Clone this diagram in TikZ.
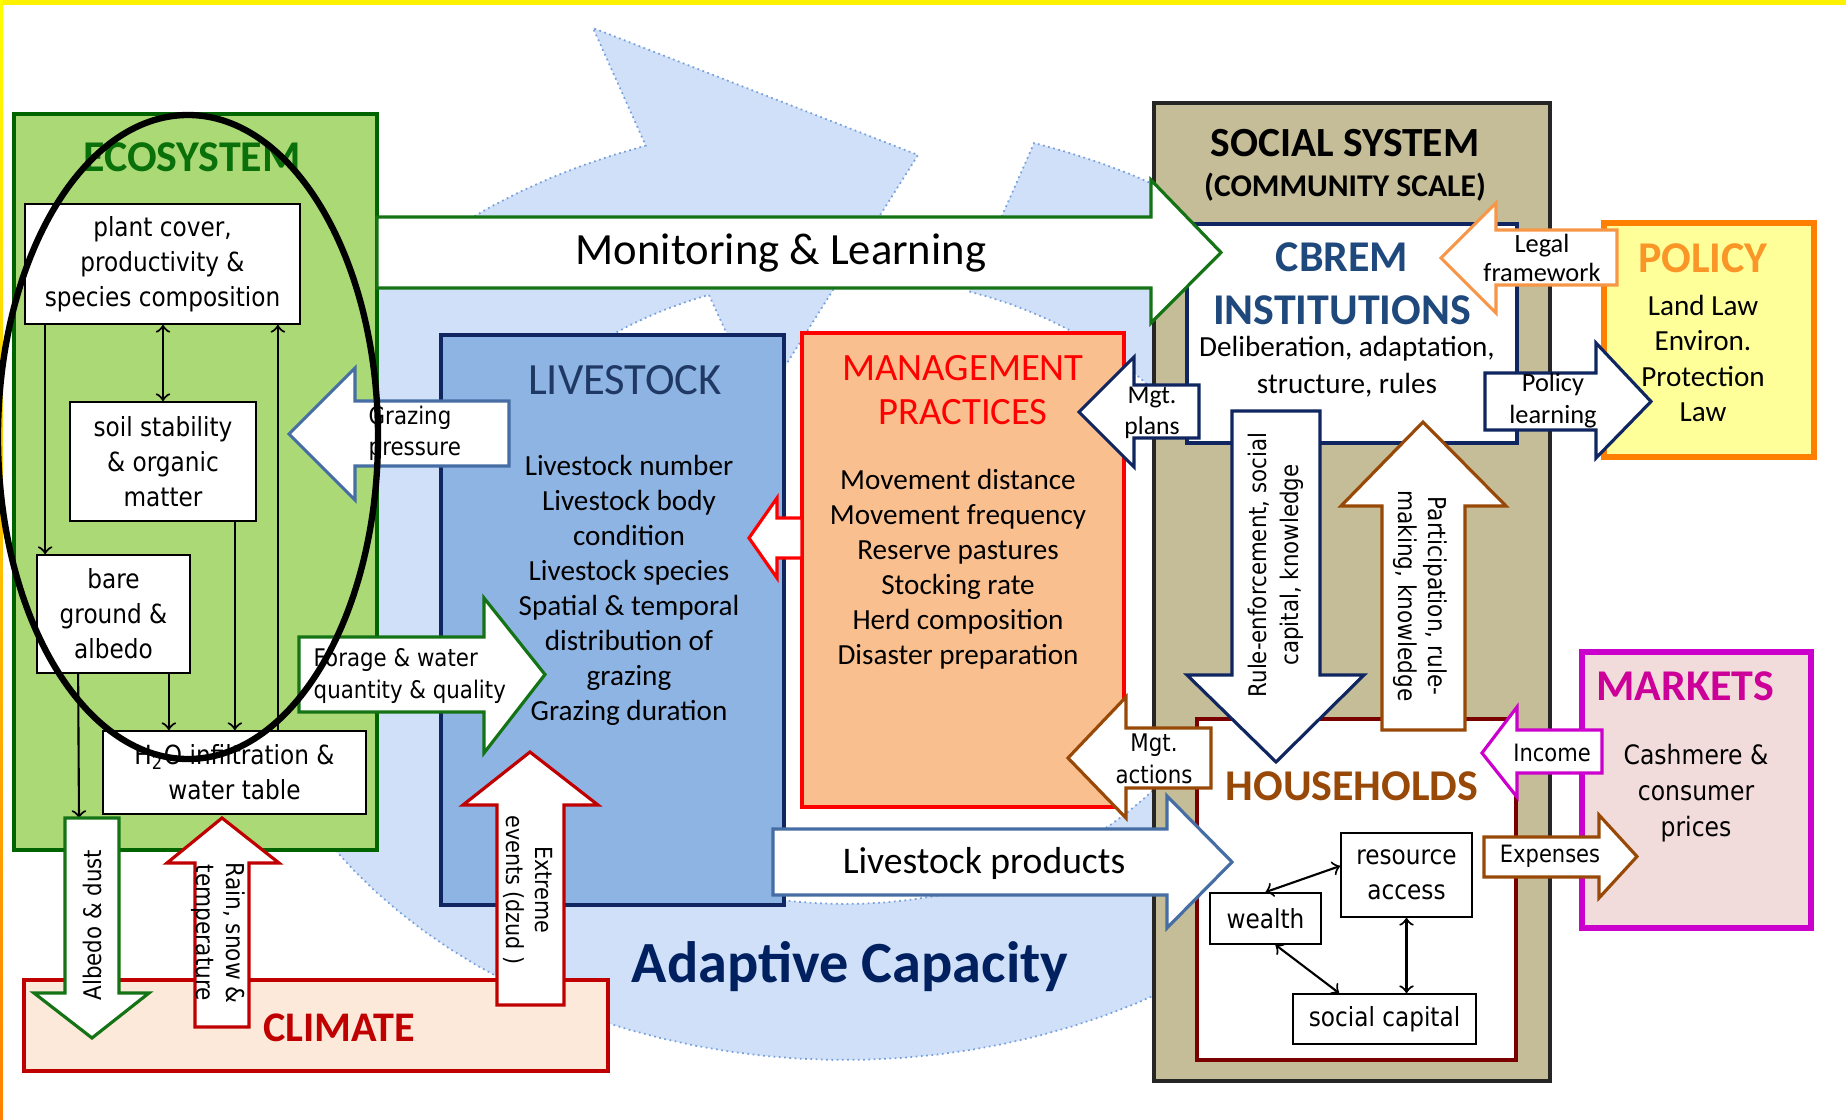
\documentclass[tikz,border=0pt]{standalone}
\usepackage{fontspec}
\setmainfont{Carlito}
\newfontfamily\verd[FakeStretch=0.88]{DejaVu Sans}
\usepackage{tikz}
\usetikzlibrary{calc}

\definecolor{ecofill}{RGB}{170,217,118}
\definecolor{ecoline}{RGB}{0,100,0}
\definecolor{ecotext}{RGB}{10,112,10}
\definecolor{livefill}{RGB}{142,180,227}
\definecolor{navy}{RGB}{16,38,96}
\definecolor{livetext}{RGB}{31,56,100}
\definecolor{mgmtfill}{RGB}{250,191,143}
\definecolor{socialfill}{RGB}{196,189,151}
\definecolor{socialline}{RGB}{38,38,38}
\definecolor{cbremtext}{RGB}{31,73,125}
\definecolor{policyfill}{RGB}{255,255,153}
\definecolor{policyline}{RGB}{255,128,0}
\definecolor{policytext}{RGB}{250,150,40}
\definecolor{legalline}{RGB}{247,150,70}
\definecolor{hhbrown}{RGB}{152,72,7}
\definecolor{houseline}{RGB}{122,0,0}
\definecolor{mktfill}{RGB}{242,220,219}
\definecolor{mktline}{RGB}{204,0,204}
\definecolor{mkttext}{RGB}{204,0,153}
\definecolor{climfill}{RGB}{253,233,217}
\definecolor{climline}{RGB}{192,0,0}
\definecolor{steel}{RGB}{70,110,165}
\definecolor{greenarrow}{RGB}{20,115,20}
\definecolor{cyclefill}{RGB}{207,224,248}
\definecolor{cycleline}{RGB}{120,160,220}
\definecolor{adaptext}{RGB}{0,32,96}

\begin{document}
\begin{tikzpicture}[x=1cm, y=-1cm,
    box/.style = {draw, line width=1.4pt, inner sep=0pt},
    small/.style = {draw, fill=white, line width=0.5pt, inner sep=0pt, align=center, font=\verd\fontsize{7.5}{10}\selectfont},
    title/.style = {inner sep=0pt, font=\bfseries\fontsize{12.5}{15}\selectfont},
    list/.style = {inner sep=0pt, align=center, font=\fontsize{8.3}{9.96}\selectfont},
    arrlbl/.style = {inner sep=0pt, align=center, font=\verd\fontsize{6.9}{9}\selectfont},
    blk/.style = {fill=white, line width=0.9pt, line join=miter},
    link/.style = {line width=0.6pt, ->}]
% frame
\useasboundingbox (0,0) rectangle (18.46,11.2);
\fill[yellow] (0,0) rectangle (18.46,0.05);
\shade[top color=yellow, bottom color=orange] (0,0) rectangle (0.03,11.2);

% adaptive cycle behind everything
\filldraw[fill=cyclefill, draw=cycleline, densely dotted, line width=0.5pt]
    (7.09,2.95) -- (7.60,4.06) -- (9.18,1.55) -- (5.93,0.28)
    -- plot[domain=109:432, samples=100] ({8.45+6.12*cos(\x)}, {5.90-4.70*sin(\x)})
    -- plot[domain=432:110, samples=100] ({8.45+4.00*cos(\x)}, {5.90-3.14*sin(\x)})
    -- cycle;
\node[inner sep=0pt, text=adaptext, font=\bfseries\fontsize{16.6}{20}\selectfont] (adaptive) at (8.50,9.67) {Adaptive Capacity};

% main boxes
\node[box, fill=climfill, draw=climline, minimum width=5.84cm, minimum height=0.91cm] (climate) at (3.16,10.255) {};
\node[box, fill=ecofill, draw=ecoline, minimum width=3.63cm, minimum height=7.36cm] (eco) at (1.955,4.82) {};
\node[box, fill=livefill, draw=navy, minimum width=3.43cm, minimum height=5.70cm] (live) at (6.125,6.20) {};
\node[box, fill=mgmtfill, draw=red, minimum width=3.22cm, minimum height=4.74cm] (mgmt) at (9.63,5.70) {};
\node[box, fill=socialfill, draw=socialline, minimum width=3.96cm, minimum height=9.78cm] (social) at (13.52,5.92) {};
\node[box, fill=white, draw=navy, minimum width=3.30cm, minimum height=2.19cm] (cbrem) at (13.52,3.335) {};
\node[box, fill=white, draw=houseline, minimum width=3.19cm, minimum height=3.41cm] (house) at (13.565,8.895) {};
\node[box, fill=policyfill, draw=policyline, line width=1.8pt, minimum width=2.10cm, minimum height=2.34cm] (policy) at (17.09,3.40) {};
\node[box, fill=mktfill, draw=mktline, line width=1.8pt, minimum width=2.29cm, minimum height=2.76cm] (markets) at (16.965,7.90) {};

% titles and texts
\node[title, text=ecotext] (ecotitle) at (1.92,1.57) {ECOSYSTEM};
\node[title, text=livetext, font=\fontsize{12.7}{15}\selectfont] (livetitle) at (6.25,3.80) {LIVESTOCK};
\node[title, text=red, align=center, font=\fontsize{11}{12.5}\selectfont] (mgmttitle) at (9.63,3.90) {MANAGEMENT\\PRACTICES};
\node[title, font=\bfseries\fontsize{11.8}{14}\selectfont] (socialtitle) at (13.45,1.43) {SOCIAL SYSTEM};
\node[title, font=\bfseries\fontsize{9}{11}\selectfont] (socialsub) at (13.45,1.87) {(COMMUNITY SCALE)};
\node[title, text=cbremtext, align=center] (cbremtitle) at (13.42,2.835) {CBREM\\INSTITUTIONS};
\node[list, font=\fontsize{8.3}{10.5}\selectfont] (cbremdesc) at (13.47,3.665) {Deliberation, adaptation,\\structure, rules};
\node[title, text=policytext] (policytitle) at (17.03,2.58) {POLICY};
\node[list, font=\fontsize{8.3}{10.1}\selectfont] (policydesc) at (17.03,3.585) {Land Law\\Environ.\\Protection\\Law};
\node[title, text=hhbrown] (housetitle) at (13.52,7.86) {HOUSEHOLDS};
\node[title, text=mkttext] (mkttitle) at (16.85,6.86) {MARKETS};
\node[list, font=\verd\fontsize{7.6}{10.2}\selectfont] (mktdesc) at (16.96,7.93) {Cashmere \&\\consumer\\prices};
\node[title, text=climline, font=\bfseries\fontsize{12}{14}\selectfont] (climtitle) at (3.39,10.28) {CLIMATE};

\node[list] (livelist) at (6.29,5.905) {Livestock number\\Livestock body\\condition\\Livestock species\\Spatial \& temporal\\distribution of\\grazing\\Grazing duration};
\node[list] (mgmtlist) at (9.58,5.695) {Movement distance\\Movement frequency\\Reserve pastures\\Stocking rate\\Herd composition\\Disaster preparation};

% ecosystem parts
\node[small, minimum width=2.75cm, minimum height=1.20cm] (plant) at (1.625,2.64) {plant cover,\\productivity \&\\species composition};
\node[small, minimum width=1.86cm, minimum height=1.19cm] (soil) at (1.63,4.615) {soil stability\\\& organic\\matter};
\node[small, minimum width=1.53cm, minimum height=1.18cm] (bare) at (1.135,6.14) {bare\\ground \&\\albedo};
\node[small, minimum width=2.63cm, minimum height=0.83cm] (water) at (2.345,7.725) {H\textsubscript{2}O infiltration \&\\water table};
\coordinate (albtop) at (0.79,8.18);

\draw[link] ($(plant.south west)+(0.21,0)$) -- ($(plant.south west |- bare.north)+(0.21,0)$);
\draw[link, <->] (soil.north |- plant.south) -- (soil.north);
\draw[link] ($(plant.south east |- water.north)+(-0.23,0)$) -- ($(plant.south east)+(-0.23,0)$);
\draw[link] ($(soil.south east)+(-0.22,0)$) -- ($(soil.south east |- water.north)+(-0.22,0)$);
\draw[link] ($(bare.south east)+(-0.22,0)$) -- ($(bare.south east |- water.north)+(-0.22,0)$);
\draw[link] ($(bare.south west)+(0.42,0)$) -- (albtop);

% household parts
\node[small, minimum width=1.31cm, minimum height=0.84cm] (access) at (14.065,8.75) {resource\\access};
\node[small, minimum width=1.11cm, minimum height=0.51cm] (wealth) at (12.655,9.185) {wealth};
\node[small, minimum width=1.83cm, minimum height=0.50cm] (capital) at (13.845,10.19) {social capital};

\draw[link, <->] (wealth.north) -- ($(access.west)+(0,-0.09)$);
\draw[link, <->] ($(wealth.south)+(0.10,0)$) -- ($(capital.north west)+(0.47,0)$);
\draw[link, <->] (access.south) -- (access.south |- capital.north);

% block arrows
\draw[blk, draw=greenarrow] (3.77,2.17) -- (11.51,2.17) -- (11.51,1.80) -- (12.21,2.525) -- (11.51,3.23) -- (11.51,2.88) -- (3.77,2.88) -- cycle;
\node[inner sep=0pt, font=\fontsize{12.7}{15}\selectfont] (monitor) at (7.81,2.53) {Monitoring \& Learning};

\draw[blk, draw=steel] (5.09,4.01) -- (3.55,4.01) -- (3.55,3.68) -- (2.89,4.34) -- (3.55,5.00) -- (3.55,4.66) -- (5.09,4.66) -- cycle;
\node[arrlbl, align=left, anchor=west, font=\verd\fontsize{6.9}{8.8}\selectfont] (grazing) at (3.68,4.335) {Grazing\\pressure};

\draw[blk, draw=greenarrow] (2.99,6.37) -- (4.84,6.37) -- (4.84,5.98) -- (5.45,6.745) -- (4.84,7.53) -- (4.84,7.12) -- (2.99,7.12) -- cycle;
\node[arrlbl, align=left, anchor=west] (forage) at (3.13,6.76) {Forage \& water\\quantity \& quality};

\draw[blk, draw=red] (8.02,5.18) -- (7.77,5.18) -- (7.77,4.98) -- (7.49,5.38) -- (7.77,5.78) -- (7.77,5.58) -- (8.02,5.58) -- cycle;

\draw[blk, draw=legalline] (16.17,2.30) -- (14.96,2.30) -- (14.96,2.03) -- (14.41,2.58) -- (14.96,3.13) -- (14.96,2.85) -- (16.17,2.85) -- cycle;
\node[arrlbl, font=\fontsize{7.5}{8.5}\selectfont] (legal) at (15.42,2.58) {Legal\\framework};

\draw[blk, draw=navy] (14.85,3.73) -- (15.96,3.73) -- (15.96,3.43) -- (16.51,4.015) -- (15.96,4.58) -- (15.96,4.30) -- (14.85,4.30) -- cycle;
\node[arrlbl, font=\fontsize{7.5}{9.1}\selectfont] (learning) at (15.53,4.01) {Policy\\learning};

\draw[blk, draw=navy] (11.99,3.85) -- (11.34,3.85) -- (11.34,3.57) -- (10.79,4.12) -- (11.34,4.67) -- (11.34,4.38) -- (11.99,4.38) -- cycle;
\node[arrlbl, font=\fontsize{7.3}{8.8}\selectfont] (plans) at (11.52,4.125) {Mgt.\\plans};

\draw[blk, draw=hhbrown] (12.11,7.28) -- (11.26,7.28) -- (11.26,6.97) -- (10.68,7.58) -- (11.26,8.18) -- (11.26,7.88) -- (12.11,7.88) -- cycle;
\node[arrlbl, font=\verd\fontsize{6.9}{9.1}\selectfont] (actions) at (11.54,7.59) {Mgt.\\actions};

\draw[blk, draw=navy] (12.32,4.11) -- (13.20,4.11) -- (13.20,6.75) -- (13.64,6.75) -- (12.76,7.62) -- (11.87,6.75) -- (12.32,6.75) -- cycle;
\node[arrlbl, rotate=90] (rules) at (12.76,5.65) {Rule-enforcement, social\\capital, knowledge};

\draw[blk, draw=hhbrown] (13.82,7.30) -- (13.82,5.06) -- (13.41,5.06) -- (14.23,4.22) -- (15.06,5.06) -- (14.65,5.06) -- (14.65,7.30) -- cycle;
\node[arrlbl, rotate=-90, font=\verd\fontsize{7}{8.5}\selectfont] (particip) at (14.20,5.96) {Participation, rule-\\making, knowledge};

\draw[blk, draw=mktline] (16.02,7.30) -- (15.17,7.30) -- (15.17,7.07) -- (14.82,7.53) -- (15.17,7.97) -- (15.17,7.73) -- (16.02,7.73) -- cycle;
\node[arrlbl, font=\verd\fontsize{6.8}{8}\selectfont] (income) at (15.52,7.53) {Income};

\draw[blk, draw=hhbrown] (14.84,8.37) -- (15.99,8.37) -- (15.99,8.15) -- (16.37,8.565) -- (15.99,8.98) -- (15.99,8.77) -- (14.84,8.77) -- cycle;
\node[arrlbl, font=\verd\fontsize{6.8}{8}\selectfont] (expenses) at (15.50,8.56) {Expenses};

\draw[blk, draw=steel] (7.73,8.29) -- (11.67,8.29) -- (11.67,7.96) -- (12.32,8.62) -- (11.67,9.28) -- (11.67,8.95) -- (7.73,8.95) -- cycle;
\node[inner sep=0pt, font=\fontsize{10.7}{12}\selectfont] (products) at (9.84,8.63) {Livestock products};

\draw[blk, draw=greenarrow] (0.65,8.18) -- (1.19,8.18) -- (1.19,9.93) -- (1.49,9.93) -- (0.92,10.38) -- (0.34,9.93) -- (0.65,9.93) -- cycle;
\node[arrlbl, rotate=90] (albedo) at (0.92,9.25) {Albedo \& dust};

\draw[blk, draw=climline] (1.95,10.27) -- (1.95,8.63) -- (1.67,8.63) -- (2.22,8.18) -- (2.79,8.63) -- (2.49,8.63) -- (2.49,10.27) -- cycle;
\node[arrlbl, rotate=-90, font=\verd\fontsize{7}{8.5}\selectfont] (rain) at (2.18,9.33) {Rain, snow \&\\temperature};

\draw[blk, draw=climline] (4.97,10.05) -- (4.97,8.05) -- (4.63,8.05) -- (5.30,7.52) -- (5.98,8.05) -- (5.64,8.05) -- (5.64,10.05) -- cycle;
\node[arrlbl, rotate=-90, font=\verd\fontsize{6.7}{8.5}\selectfont] (extreme) at (5.28,8.90) {Extreme\\events (dzud )};

% ring round the ecosystem
\draw[line width=1.8pt] (1.88,4.37) ellipse [x radius=1.90, y radius=3.22];

\end{tikzpicture}
\end{document}
